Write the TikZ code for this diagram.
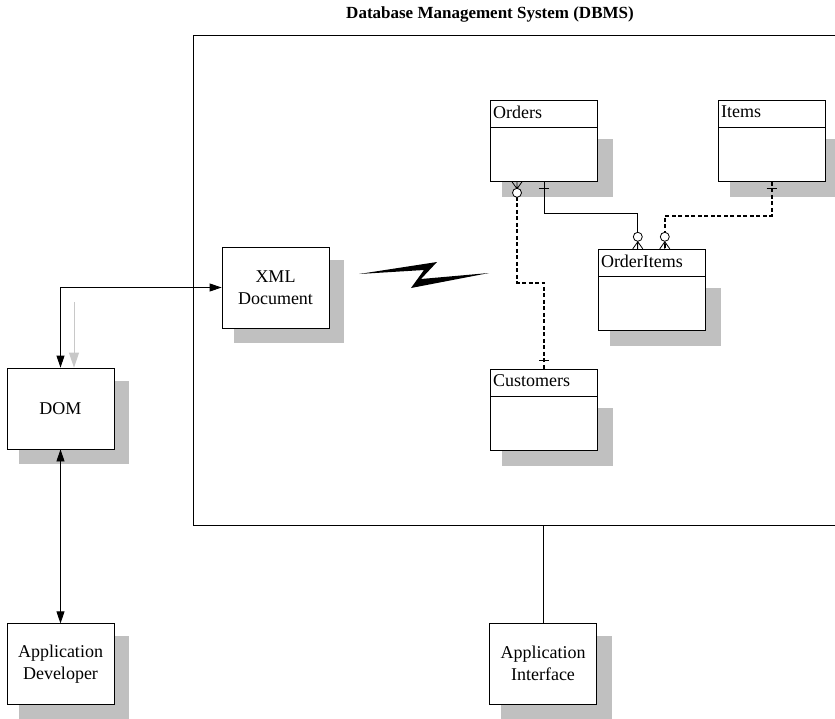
\documentclass[tikz,border=0pt]{standalone}
\usepackage{fontspec}
\setmainfont{Liberation Serif}
\usetikzlibrary{arrows.meta,positioning,calc,backgrounds}
\definecolor{shadowgray}{RGB}{192,192,192}
\definecolor{hintgray}{RGB}{200,200,200}

\begin{document}
\begin{tikzpicture}[
  x=1pt, y=-1pt,
  every node/.style={font=\fontsize{18}{22}\selectfont},
  box/.style={draw,line width=0.8pt,fill=white,minimum width=107pt,minimum height=81pt,inner sep=0pt,align=center},
  entity/.style={box,path picture={\draw[line width=0.8pt] ([yshift=-27pt]path picture bounding box.north west) -- ++(107,0);}},
  ename/.style={anchor=north west,inner xsep=3pt,inner ysep=6pt},
  shadow/.style={fill=shadowgray},
  link/.style={line width=0.8pt},
  erdash/.style={line width=1.8pt,dash pattern=on 4pt off 2.5pt},
  dblarrow/.style={line width=0.8pt,{Triangle[length=12pt,width=8pt]}-{Triangle[length=12pt,width=8pt]}},
  hintarrow/.style={draw=hintgray,line width=1pt,-{Triangle[length=15pt,width=10pt,fill=hintgray]}}
]
  \useasboundingbox (0,0) rectangle (835,718);
  \clip (0,0) rectangle (835,718);

  \node (title) at (490,14) [font=\fontsize{17}{20}\selectfont\bfseries] {Database Management System (DBMS)};
  \node (dbms) [draw,line width=0.8pt,anchor=north west,minimum width=660pt,minimum height=490pt] at (193,35) {};

  \node (orders) [entity,anchor=north west,label={[ename]north west:Orders}] at (490,100) {};
  \node (items) [entity,right=120pt of orders,label={[ename]north west:Items}] {};
  \node (orderitems) [entity,below right=67pt and 0pt of orders,label={[ename]north west:OrderItems}] {};
  \node (customers) [entity,below=187pt of orders,label={[ename]north west:Customers}] {};

  \node (xml) [box] at (275.5,287.5) {XML\\Document};
  \node (dom) [box] at (60.5,408.5) {DOM};
  \node (appdev) [box,below=174pt of dom] {Application\\Developer};
  \node (appint) [box] at (543,663.5) {Application\\Interface};

  % shadows behind the boxes
  \begin{scope}[on background layer]
    \foreach \n in {xml,dom,appdev,appint}
      \fill[shadow] ($(\n.north west)+(12,13)$) rectangle ($(\n.south east)+(15,15)$);
    \foreach \n in {orders,items,orderitems,customers}
      \fill[shadow] ($(\n.north west)+(12,39)$) rectangle ($(\n.south east)+(15,15)$);
  \end{scope}

  % relationships
  \coordinate (oc) at ($(orders.south west)+(27,0)$);
  \coordinate (oi1) at ($(orderitems.north west)+(40,0)$);
  \coordinate (oi2) at ($(orderitems.north west)+(67,0)$);
  \draw[link] (orders.south) -- ++(0,32) -| (oi1);
  \draw[erdash] (items.south) -- ++(0,34) -| (oi2);
  \draw[erdash] ($(oc)+(0,15)$) |- ($(customers.north)+(0,-86)$) -- (customers.north);

  \draw[link] ($(orders.south)+(-5,7)$) -- ++(10,0);
  \draw[link] ($(items.south)+(-5,7)$) -- ++(10,0);
  \draw[link] ($(customers.north)+(-5,-8)$) -- ++(10,0);
  \foreach \c in {oi1,oi2} {
    \draw[link] ($(\c)+(-5,0)$) -- ($(\c)+(0,-7)$) -- ($(\c)+(5,0)$) ($(\c)+(0,-7)$) -- (\c);
    \draw[link,fill=white] ($(\c)+(0,-12)$) circle (4.5);
  }
  \draw[link] ($(oc)+(-5,0)$) -- ($(oc)+(0,7)$) -- ($(oc)+(5,0)$) ($(oc)+(0,7)$) -- (oc);
  \draw[link,fill=white] ($(oc)+(0,11)$) circle (4.5);

  % lightning
  \fill (359,274) -- (437,262) -- (421,279) -- (489,273) -- (411,288) -- (424,270) -- cycle;

  % application side
  \coordinate (hint) at (74,302);
  \draw[hintarrow] (hint) -- (hint |- dom.north);
  \draw[dblarrow] (dom.north) |- (xml.west);
  \draw[dblarrow] (dom.south) -- (appdev.north);
  \draw[link] (appint.north) -- (appint.north |- dbms.south);
\end{tikzpicture}
\end{document}
